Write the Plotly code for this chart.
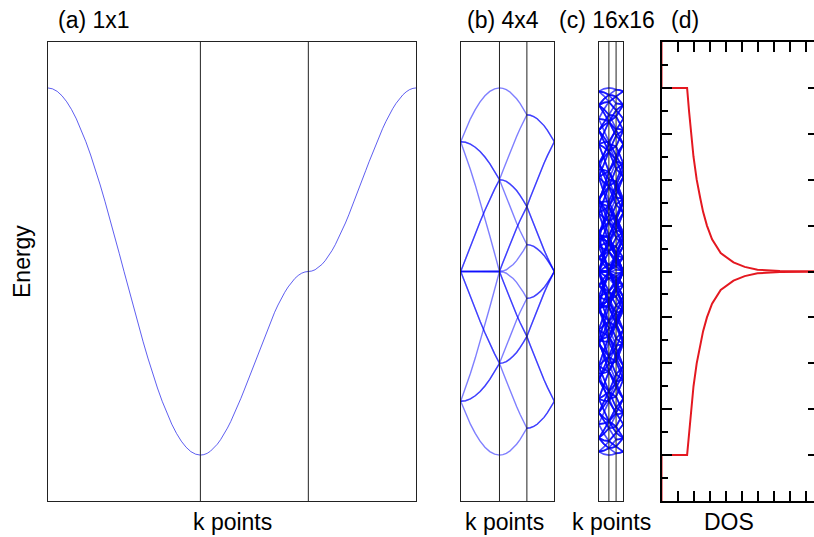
import math
import plotly.graph_objects as go

# ---------------- data ----------------
# energy of the 1x1 cosine band read along k = i*pi/32, i = 0..32 (Gamma -> X)
band_1d = [-2.000, -1.990, -1.962, -1.914, -1.848, -1.764, -1.663, -1.546,
           -1.414, -1.269, -1.111, -0.943, -0.765, -0.581, -0.390, -0.196,
           0.000, 0.196, 0.390, 0.581, 0.765, 0.943, 1.111, 1.269,
           1.414, 1.546, 1.663, 1.764, 1.848, 1.914, 1.962, 1.990, 2.000]

supercells = [1, 4, 16]
panel_titles = ["(a) 1x1", "(b) 4x4", "(c) 16x16", "(d)"]
x_labels = ["k points", "k points", "k points", "DOS"]
y_label = "Energy"

# density of states
dos_energy = [-5.0, -4.0, -4.0, -3.5, -3.0, -2.5, -2.0, -1.6, -1.3, -1.0, -0.7,
              -0.4, -0.2, -0.1, -0.04, -0.01, 0.0,
              0.01, 0.04, 0.1, 0.2, 0.4, 0.7, 1.0, 1.3, 1.6, 2.0, 2.5, 3.0,
              3.5, 4.0, 4.0, 5.0]
dos_value = [0.0, 0.0, 0.080, 0.086, 0.092, 0.100, 0.110, 0.121, 0.130, 0.142,
             0.158, 0.185, 0.225, 0.260, 0.300, 0.370, 0.90,
             0.370, 0.300, 0.260, 0.225, 0.185, 0.158, 0.142, 0.130, 0.121,
             0.110, 0.100, 0.092, 0.086, 0.080, 0.0, 0.0]

E_RANGE = [-5, 5]

# ---------------- geometry ----------------
W, H = 814, 537
def px_x(p):
    return p / W
def px_y(p):
    return 1 - p / H

plot_top, plot_bot = 42, 501
panel_px = [(47.7, 416.3), (460.7, 554.3), (598.7, 623.3), (661.5, 814)]
ydom = [px_y(plot_bot), px_y(plot_top)]

def val(i):
    i = i % 64
    if i > 32:
        i = 64 - i
    return band_1d[i]

R2 = math.sqrt(2)

def band_path(N, m, n):
    J = 32 // N
    om, on = (64 // N) * m, (64 // N) * n
    xs, ys = [], []
    for j in range(J, -1, -1):
        xs.append(R2 * (J - j)); ys.append(val(om + j) + val(on + j))
    for j in range(0, J + 1):
        xs.append(R2 * J + j); ys.append(val(om + j) + val(on))
    for j in range(0, J + 1):
        xs.append(R2 * J + J + j); ys.append(val(om + J) + val(on + j))
    return xs, ys

fig = go.Figure()

band_styles = {1: dict(color="rgba(40,40,235,0.75)", width=1),
               4: dict(color="rgba(0,0,255,0.5)", width=1.4),
               16: dict(color="rgba(0,0,255,0.7)", width=1.7)}

for p, N in enumerate(supercells):
    ax = "" if p == 0 else str(p + 1)
    J = 32 // N
    total = (2 + R2) * J
    for m in range(N):
        for n in range(N):
            xs, ys = band_path(N, m, n)
            fig.add_trace(go.Scatter(x=xs, y=ys, mode="lines", line=band_styles[N],
                                     xaxis="x" + ax, yaxis="y" + ax, hoverinfo="skip"))
    for xs in (R2 * J, (1 + R2) * J):
        fig.add_trace(go.Scatter(x=[xs, xs], y=E_RANGE, mode="lines",
                                 line=dict(color="#222", width=1),
                                 xaxis="x" + ax, yaxis="y" + ax, hoverinfo="skip"))
    frame = dict(showline=True, mirror=True, linecolor="#222", linewidth=1,
                 showgrid=False, zeroline=False, ticks="", showticklabels=False)
    fig.layout["xaxis" + ax] = dict(domain=[px_x(panel_px[p][0]), px_x(panel_px[p][1])],
                                    range=[0, total], anchor="y" + ax, **frame)
    fig.layout["yaxis" + ax] = dict(domain=ydom, range=E_RANGE, anchor="x" + ax, **frame)

# DOS panel
dos_max = (panel_px[3][1] - panel_px[3][0]) / 320.0
fig.add_trace(go.Scatter(x=dos_value, y=dos_energy, mode="lines",
                         line=dict(color="rgb(228,24,32)", width=2),
                         xaxis="x4", yaxis="y4", hoverinfo="skip"))
fig.layout["xaxis4"] = dict(domain=[px_x(panel_px[3][0]), 1.0], range=[0, dos_max],
                            anchor="y4", showline=True, mirror="allticks", linecolor="black",
                            linewidth=2, showgrid=False, zeroline=False, ticks="inside",
                            tick0=0, dtick=0.1, ticklen=10, tickcolor="black", tickwidth=1.5,
                            minor=dict(ticks="inside", dtick=0.05, ticklen=10, tickcolor="black", tickwidth=1.5),
                            showticklabels=False)
fig.layout["yaxis4"] = dict(domain=ydom, range=E_RANGE, anchor="x4", showline=True,
                            linecolor="black", linewidth=2, showgrid=False, zeroline=False,
                            ticks="inside", tick0=0, dtick=1, ticklen=10, tickcolor="black",
                            tickwidth=1.5,
                            minor=dict(ticks="inside", dtick=0.5, ticklen=6, tickcolor="black", tickwidth=1.5),
                            showticklabels=False)
fig.layout["yaxis5"] = dict(domain=ydom, range=E_RANGE, overlaying="y4", anchor="x4", side="right",
                            showline=False, showgrid=False, zeroline=False, ticks="inside",
                            tick0=0, dtick=1, ticklen=6, tickcolor="black", tickwidth=1.5,
                            showticklabels=False)
fig.add_trace(go.Scatter(x=[None], y=[None], xaxis="x4", yaxis="y5", hoverinfo="skip"))

font = dict(family="Liberation Sans, Arial, sans-serif", size=23, color="black")
ann = []
title_left = [56, 465, 557, 669]
for t, xl in zip(panel_titles, title_left):
    ann.append(dict(text=t, x=px_x(xl), y=px_y(20), xref="paper", yref="paper",
                    xanchor="left", yanchor="middle", showarrow=False, font=font))
label_cx = [232, 504, 611, 729]
for t, cx in zip(x_labels, label_cx):
    ann.append(dict(text=t, x=px_x(cx), y=px_y(522), xref="paper", yref="paper",
                    xanchor="center", yanchor="middle", showarrow=False, font=font))
ann.append(dict(text=y_label, x=px_x(22), y=px_y(262), xref="paper", yref="paper",
                xanchor="center", yanchor="middle", textangle=-90, showarrow=False, font=font))

fig.update_layout(width=W, height=H, margin=dict(l=0, r=0, t=0, b=0),
                  paper_bgcolor="white", plot_bgcolor="white", showlegend=False,
                  annotations=ann)
fig.write_html("out.html")
